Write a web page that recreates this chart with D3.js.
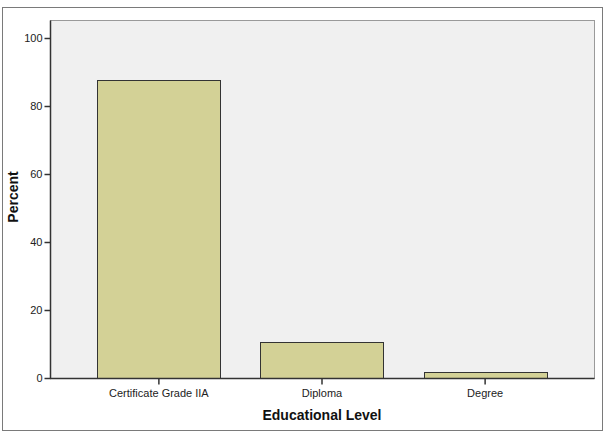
<!DOCTYPE html>
<html>
<head>
<meta charset="utf-8">
<script src="https://cdn.jsdelivr.net/npm/d3@7"></script>
<style>
  body { margin: 0; background: #fff; }
  svg { display: block; }
  .tick text { font-family: "Liberation Sans Narrow", "Arial Narrow", "Liberation Sans", sans-serif; font-size: 11px; fill: #222; }
  .title { font-family: "Liberation Sans", Arial, sans-serif; font-weight: bold; font-size: 14px; fill: #111; }
</style>
</head>
<body>
<svg id="chart" width="607" height="435"></svg>
<script>
var categories = ["Certificate Grade IIA", "Diploma", "Degree"];
var percents = [87.7, 10.5, 1.8];
var yTicks = [0, 20, 40, 60, 80, 100];

var svg = d3.select('#chart');
var plotL = 50, plotR = 594, plotT = 20, plotB = 378;

// outer frame
svg.append('rect').attr('x', 2.5).attr('y', 7.5).attr('width', 600).attr('height', 423)
  .attr('fill', '#fff').attr('stroke', '#7a7a7a');

var x = d3.scaleBand().domain(categories).range([plotL, plotR])
  .paddingInner(0.245).paddingOuter(0.29);
var y = d3.scaleLinear().domain([0, 100]).range([plotB, 38]);

// plot area
svg.append('rect').attr('x', plotL + 0.5).attr('y', plotT + 0.5)
  .attr('width', plotR - plotL).attr('height', plotB - plotT)
  .attr('fill', '#f0f0f0').attr('stroke', '#9a9a9a');

svg.selectAll('.bar').data(percents).enter().append('rect')
  .attr('class', 'bar')
  .attr('x', function(d, i){ return Math.round(x(categories[i])) + 0.5; })
  .attr('y', function(d){ return Math.round(y(d)) + 0.5; })
  .attr('width', Math.round(x.bandwidth()))
  .attr('height', function(d){ return Math.round(y(0)) - Math.round(y(d)); })
  .attr('fill', '#d3d196').attr('stroke', '#333').attr('stroke-width', 1);

var yAxis = svg.append('g').attr('transform', 'translate(' + (plotL + 0.5) + ',0)')
  .call(d3.axisLeft(y).tickValues(yTicks).tickSize(6).tickPadding(2));
var xAxis = svg.append('g').attr('transform', 'translate(0,' + (plotB + 0.5) + ')')
  .call(d3.axisBottom(x).tickSize(6).tickPadding(5));

[yAxis, xAxis].forEach(function(g){
  g.select('.domain').attr('stroke', '#333').attr('stroke-width', 1.5);
  g.selectAll('.tick line').attr('stroke', '#333').attr('stroke-width', 1.5);
});
yAxis.select('.domain').attr('d', 'M0,' + (plotT + 0.5) + 'V' + (plotB + 0.5));
xAxis.select('.domain').attr('d', 'M' + plotL + ',0H' + (plotR + 0.5));

svg.append('text').attr('class', 'title')
  .attr('x', (plotL + plotR) / 2).attr('y', 420)
  .attr('text-anchor', 'middle').text('Educational Level');

svg.append('text').attr('class', 'title')
  .attr('transform', 'translate(18,197) rotate(-90)')
  .attr('text-anchor', 'middle').text('Percent');
</script>
</body>
</html>
